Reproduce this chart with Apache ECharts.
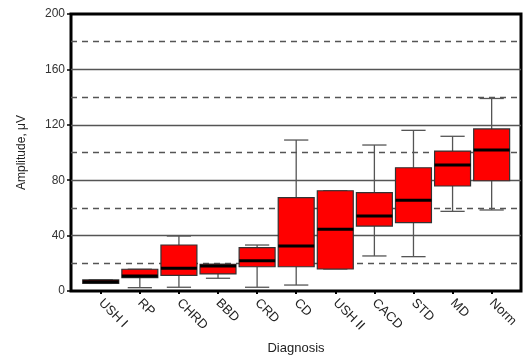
<!DOCTYPE html>
<html>
<head>
<meta charset="utf-8">
<script src="https://cdn.jsdelivr.net/npm/echarts@6/dist/echarts.min.js"></script>
<style>
  html, body { margin: 0; padding: 0; background: #fff; }
  #chart { width: 527px; height: 356px; }
</style>
</head>
<body>
<div id="chart"></div>
<script>
// 诊断分组与箱线图数值 (µV)
var categories = ['USH I', 'RP', 'CHRD', 'BBD', 'CRD', 'CD', 'USH II', 'CACD', 'STD', 'MD', 'Norm'];
var whiskerLow = [5.5, 2.4, 2.7, 9.2, 2.7, 4.3, 15.9, 25.3, 24.8, 57.5, 58.5];
var q1 = [5.5, 9.6, 11.3, 12.3, 17.5, 17.5, 15.9, 46.9, 49.3, 75.8, 79.6];
var median = [6.7, 10.8, 16.4, 18, 21.9, 32.5, 44.5, 54.2, 65.5, 91, 101.8];
var q3 = [8, 15.7, 33.2, 19.3, 31.3, 67.4, 72.4, 71, 89, 101, 117];
var whiskerHigh = [8, 15.7, 39.7, 19.3, 33.2, 109, 72.4, 105.4, 116, 111.7, 139];

var FONT = 'Arial, "Liberation Sans", sans-serif';

var boxData = categories.map(function (c, i) {
    return [i, whiskerLow[i], q1[i], median[i], q3[i], whiskerHigh[i]];
});

// 自定义箱线图绘制
function renderBox(params, api) {
    var x = api.value(0);
    var band = api.size([1, 0])[0];
    var boxW = band * 0.92;
    var capW = band * 0.62;
    var pLow = api.coord([x, api.value(1)]);
    var pQ1 = api.coord([x, api.value(2)]);
    var pMed = api.coord([x, api.value(3)]);
    var pQ3 = api.coord([x, api.value(4)]);
    var pHigh = api.coord([x, api.value(5)]);
    var cx = pMed[0];
    var whisker = { stroke: '#555', lineWidth: 1.3 };
    return {
        type: 'group',
        children: [
            { type: 'line', shape: { x1: cx, y1: pHigh[1], x2: cx, y2: pQ3[1] }, style: whisker },
            { type: 'line', shape: { x1: cx, y1: pQ1[1], x2: cx, y2: pLow[1] }, style: whisker },
            { type: 'line', shape: { x1: cx - capW / 2, y1: pHigh[1], x2: cx + capW / 2, y2: pHigh[1] }, style: whisker },
            { type: 'line', shape: { x1: cx - capW / 2, y1: pLow[1], x2: cx + capW / 2, y2: pLow[1] }, style: whisker },
            {
                type: 'rect',
                shape: { x: cx - boxW / 2, y: pQ3[1], width: boxW, height: pQ1[1] - pQ3[1] },
                style: { fill: '#ff0000', stroke: '#333', lineWidth: 1.2 }
            },
            { type: 'line', shape: { x1: cx - boxW / 2, y1: pMed[1], x2: cx + boxW / 2, y2: pMed[1] }, style: { stroke: '#000', lineWidth: 3 } }
        ]
    };
}

var chart = echarts.init(document.getElementById('chart'));
var option = {
    animation: false,
    textStyle: { fontFamily: FONT },
    grid: [
        { left: 71, right: 6, top: 14, bottom: 65, outerBoundsMode: 'none', containLabel: false, show: true, borderColor: '#000', borderWidth: 3, backgroundColor: 'transparent' },
        { left: 81.2, right: 15.8, top: 14, bottom: 65, outerBoundsMode: 'none', containLabel: false }
    ],
    xAxis: [
        {
            gridIndex: 0,
            type: 'value',
            min: 0,
            max: 1,
            name: 'Diagnosis',
            nameLocation: 'middle',
            nameGap: 51,
            nameTextStyle: { fontSize: 13, color: '#222', fontFamily: FONT },
            axisLine: { show: false },
            axisTick: { show: false },
            axisLabel: { show: false },
            splitLine: { show: false }
        },
        {
            gridIndex: 1,
            type: 'category',
            data: categories,
            axisLine: { show: false },
            axisTick: { show: true, alignWithLabel: true, length: 3, lineStyle: { color: '#000', width: 2 } },
            axisLabel: { rotate: -45, fontSize: 13, color: '#222', margin: 10, fontFamily: FONT, interval: 0 },
            splitLine: { show: false }
        }
    ],
    yAxis: [
        {
            gridIndex: 0,
            type: 'value',
            min: 0,
            max: 200,
            interval: 40,
            name: 'Amplitude, μV',
            nameLocation: 'middle',
            nameGap: 43,
            nameTextStyle: { fontSize: 12, color: '#222', fontFamily: FONT },
            axisLine: { show: false },
            axisTick: { show: true, length: 4, lineStyle: { color: '#000', width: 1.5 } },
            axisLabel: { fontSize: 12, color: '#333', margin: 6, fontFamily: FONT },
            splitLine: { show: true, showMinLine: false, showMaxLine: false, lineStyle: { color: '#555', width: 1.3 } },
            minorTick: { show: false, splitNumber: 2 },
            minorSplitLine: { show: true, lineStyle: { color: '#555', width: 1.3, type: [6, 5] } }
        },
        {
            gridIndex: 1,
            type: 'value',
            min: 0,
            max: 200,
            show: false
        }
    ],
    series: [
        {
            type: 'custom',
            xAxisIndex: 1,
            yAxisIndex: 1,
            renderItem: renderBox,
            encode: { x: 0, y: [1, 2, 3, 4, 5] },
            data: boxData,
            z: 5
        }
    ]
};
chart.setOption(option);

window.addEventListener('resize', function () {
    chart.resize();
});
</script>
</body>
</html>
